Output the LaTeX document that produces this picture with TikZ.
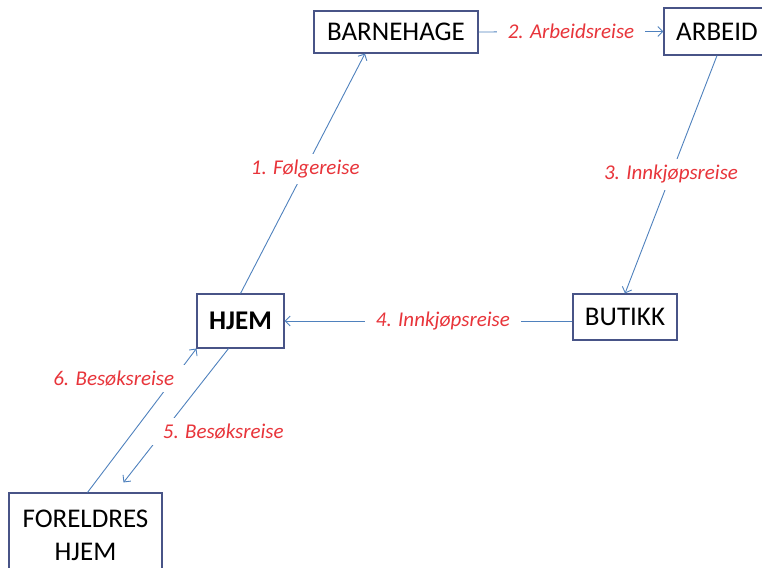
\documentclass[tikz,border=0pt]{standalone}
\usepackage{fontspec}
\setmainfont{Carlito}
\usetikzlibrary{arrows.meta}

\definecolor{rammeblaa}{RGB}{72,84,135}
\definecolor{pilblaa}{RGB}{79,129,189}
\definecolor{reiserod}{RGB}{232,52,58}

\begin{document}
\begin{tikzpicture}[x=1pt, y=1pt, align=center,
  sted/.style={draw=rammeblaa, line width=1.1pt, fill=white, inner sep=0pt, font=\fontsize{27}{33}\selectfont},
  reise/.style={fill=white, text=reiserod, inner xsep=11pt, inner ysep=6pt, font=\fontsize{21}{25}\selectfont\itshape},
  pil/.style={draw=pilblaa, line width=0.9pt, -{Straight Barb[length=5pt, width=10pt]}}]
\useasboundingbox (0,0) rectangle (762,567);
% Specification of nodes (position, etc.)

\node (barnehage)   [sted, minimum width=164pt, minimum height=42pt] at (396,535)   {BARNEHAGE};
\node (arbeid)      [sted, minimum width=106pt, minimum height=47pt] at (717,535.5) {ARBEID};
\node (hjem)        [sted, minimum width=87pt, minimum height=54pt]  at (240.5,246) {\textbf{HJEM}};
\node (butikk)      [sted, minimum width=104pt, minimum height=46pt] at (625,250)   {BUTIKK};
\node (foreldres)   [sted, minimum width=153pt, minimum height=84pt] at (85.5,32)   {FORELDRES\\HJEM};

\draw[pil]  (hjem.north) -- node[reise, pos=0.52]{1. Følgereise} ([xshift=-31pt]barnehage.south);
\draw[pil]  (barnehage.east) -- node[reise]{2. Arbeidsreise} (arbeid.west);
\draw[pil]  (arbeid.south) -- node[reise]{3. Innkjøpsreise} (butikk.north);
\draw[pil]  (butikk.west |- hjem.east) -- node[reise, pos=0.45]{4. Innkjøpsreise} (hjem.east);
\draw[pil]  ([xshift=-12pt]hjem.south) -- node[reise, pos=0.62, anchor=west, xshift=-12pt]{5. Besøksreise} ([xshift=38pt, yshift=10pt]foreldres.north);
\draw[pil]  ([xshift=2pt]foreldres.north) -- node[reise, pos=0.79, anchor=east, xshift=12pt]{6. Besøksreise} (hjem.south west);

\end{tikzpicture}
\end{document}
